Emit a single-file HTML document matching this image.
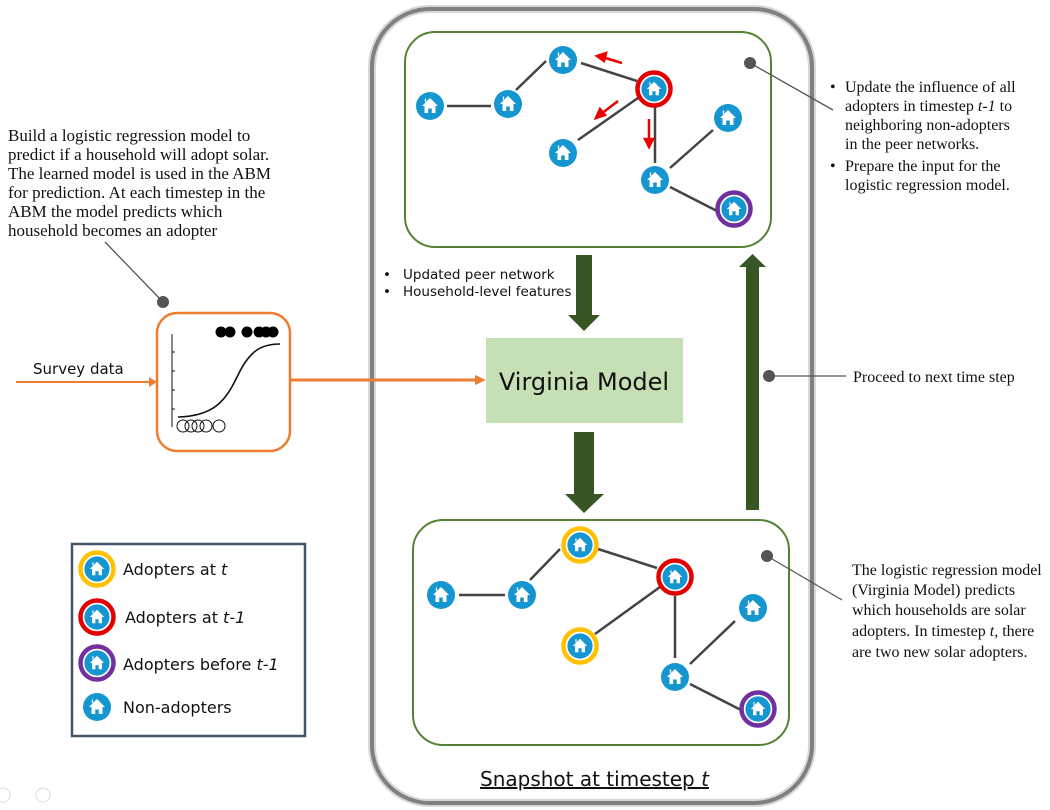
<!DOCTYPE html>
<html><head><meta charset="utf-8"><style>
html,body{margin:0;padding:0;background:#fff;}
svg{display:block;}
.t{font-family:"Liberation Serif",serif;font-size:16px;fill:#111;}
.s{font-family:"DejaVu Sans","Liberation Sans",sans-serif;fill:#111;}
</style></head><body>
<svg width="1050" height="810" viewBox="0 0 1050 810" xmlns="http://www.w3.org/2000/svg">
<defs>
<g id="h">
<circle r="14" fill="#1596d0"/>
<path d="M0,-8 L8,0 L5.5,0 L5.5,7 L1.8,7 L1.8,2.5 L-1.8,2.5 L-1.8,7 L-5.5,7 L-5.5,0 L-8,0 Z" fill="#fff"/>
<path d="M-4.5,-7.5 L-4.5,-4" stroke="#fff" stroke-width="1.3"/>
</g>
</defs>

<rect x="372" y="9" width="440" height="794" rx="58" fill="none" stroke="#d8d8d8" stroke-width="8"/>
<rect x="372" y="9" width="440" height="794" rx="58" fill="none" stroke="#808080" stroke-width="4"/>

<rect x="405" y="32" width="366" height="215" rx="30" fill="none" stroke="#548235" stroke-width="2"/>
<g stroke="#444" stroke-width="2.5">
<line x1="447" y1="106" x2="491" y2="106"/>
<line x1="516" y1="90" x2="546" y2="61"/>
<line x1="581" y1="63" x2="637" y2="81"/>
<line x1="638" y1="98" x2="578" y2="140"/>
<line x1="655" y1="107" x2="655" y2="163"/>
<line x1="670" y1="168" x2="713" y2="130"/>
<line x1="670" y1="187" x2="717" y2="211"/>
</g>
<g fill="#e00" stroke="#e00" stroke-width="2.5">
<line x1="622" y1="63" x2="602" y2="57"/><path d="M597,56 L606,53 L604,61 Z"/>
<line x1="618" y1="101" x2="601" y2="114"/><path d="M596,118 L600,109 L605,115 Z"/>
<line x1="649" y1="119" x2="649" y2="141"/><path d="M649,147 L645,139 L653,139 Z"/>
</g>
<use href="#h" x="430" y="106"/>
<use href="#h" x="508" y="104"/>
<use href="#h" x="563" y="60"/>
<circle cx="654" cy="89" r="16.5" fill="none" stroke="#e30000" stroke-width="4.5"/>
<use href="#h" x="654" y="89" transform="translate(654,89) scale(0.9) translate(-654,-89)"/>
<use href="#h" x="563" y="153"/>
<use href="#h" x="728" y="118"/>
<use href="#h" x="655" y="180"/>
<circle cx="734" cy="209" r="16.5" fill="none" stroke="#7030a0" stroke-width="4.5"/>
<use href="#h" x="734" y="209" transform="translate(734,209) scale(0.9) translate(-734,-209)"/>
<circle cx="750" cy="63" r="6" fill="#555"/>
<line x1="750" y1="63" x2="833" y2="110" stroke="#555" stroke-width="1.3"/>

<text class="t">
<tspan x="830" y="92">•</tspan><tspan x="845" y="92">Update the influence of all</tspan>
<tspan x="845" y="111">adopters in timestep <tspan font-style="italic">t-1</tspan> to</tspan>
<tspan x="845" y="130">neighboring non-adopters</tspan>
<tspan x="845" y="149">in the peer networks.</tspan>
<tspan x="830" y="171">•</tspan><tspan x="845" y="171">Prepare the input for the</tspan>
<tspan x="845" y="190">logistic regression model.</tspan>
</text>

<text class="s" font-size="13.5">
<tspan x="383" y="279">•</tspan><tspan x="403" y="279">Updated peer network</tspan>
<tspan x="383" y="296">•</tspan><tspan x="403" y="296">Household-level features</tspan>
</text>

<g fill="#375623">
<path d="M576,255 H592 V315 H600 L584,331 L568,315 H576 Z"/>
<path d="M574,432 H594 V494 H604 L584,513 L565,494 H574 Z"/>
<path d="M746,510 H759 V267 H766 L752.5,254 L739,267 H746 Z"/>
</g>

<rect x="486" y="338" width="197" height="85" fill="#c5e0b4"/>
<text class="s" x="584" y="390" font-size="24" text-anchor="middle" fill="#222">Virginia Model</text>

<circle cx="769" cy="376" r="6" fill="#555"/>
<line x1="769" y1="376" x2="846" y2="376" stroke="#555" stroke-width="1.3"/>
<text class="t" x="853" y="382">Proceed to next time step</text>

<rect x="413" y="520" width="376" height="225" rx="30" fill="none" stroke="#548235" stroke-width="2"/>
<g stroke="#444" stroke-width="2.5">
<line x1="459" y1="595" x2="505" y2="595"/>
<line x1="530" y1="580" x2="560" y2="549"/>
<line x1="598" y1="549" x2="657" y2="568"/>
<line x1="660" y1="587" x2="595" y2="634"/>
<line x1="675" y1="596" x2="675" y2="658"/>
<line x1="690" y1="664" x2="735" y2="621"/>
<line x1="690" y1="684" x2="741" y2="710"/>
</g>
<use href="#h" x="441" y="595"/>
<use href="#h" x="522" y="595"/>
<circle cx="580" cy="545" r="16.5" fill="none" stroke="#ffc000" stroke-width="4.5"/>
<use href="#h" x="580" y="545" transform="translate(580,545) scale(0.9) translate(-580,-545)"/>
<circle cx="675" cy="577" r="16.5" fill="none" stroke="#e30000" stroke-width="4.5"/>
<use href="#h" x="675" y="577" transform="translate(675,577) scale(0.9) translate(-675,-577)"/>
<circle cx="580" cy="646" r="16.5" fill="none" stroke="#ffc000" stroke-width="4.5"/>
<use href="#h" x="580" y="646" transform="translate(580,646) scale(0.9) translate(-580,-646)"/>
<use href="#h" x="753" y="608"/>
<use href="#h" x="675" y="677"/>
<circle cx="758" cy="709" r="16.5" fill="none" stroke="#7030a0" stroke-width="4.5"/>
<use href="#h" x="758" y="709" transform="translate(758,709) scale(0.9) translate(-758,-709)"/>
<circle cx="767" cy="556" r="6" fill="#555"/>
<line x1="767" y1="556" x2="842" y2="600" stroke="#555" stroke-width="1.3"/>

<text class="t">
<tspan x="852" y="575">The logistic regression model</tspan>
<tspan x="852" y="595">(Virginia Model) predicts</tspan>
<tspan x="852" y="615">which households are solar</tspan>
<tspan x="852" y="636">adopters. In timestep <tspan font-style="italic">t,</tspan> there</tspan>
<tspan x="852" y="657">are two new solar adopters.</tspan>
</text>

<text class="s" x="480" y="786" font-size="20" text-decoration="underline">Snapshot at timestep <tspan font-style="italic">t</tspan></text>

<text class="t" style="font-size:17px">
<tspan x="8" y="141">Build a logistic regression model to</tspan>
<tspan x="8" y="160">predict if a household will adopt solar.</tspan>
<tspan x="8" y="179">The learned model is used in the ABM</tspan>
<tspan x="8" y="198">for  prediction. At each timestep in the</tspan>
<tspan x="8" y="217">ABM the model predicts which</tspan>
<tspan x="8" y="236">household becomes an adopter</tspan>
</text>
<line x1="105" y1="242" x2="163" y2="302" stroke="#555" stroke-width="1.3"/>
<circle cx="163" cy="302" r="6" fill="#555"/>

<rect x="157" y="313" width="133" height="138" rx="20" fill="none" stroke="#ed7d31" stroke-width="2.5"/>
<g stroke="#111" stroke-width="1" fill="none">
<line x1="172" y1="334" x2="172" y2="427"/>
<line x1="172" y1="352" x2="175" y2="352"/><line x1="172" y1="371" x2="175" y2="371"/>
<line x1="172" y1="390" x2="175" y2="390"/><line x1="172" y1="409" x2="175" y2="409"/>
<path d="M178,417 C215,416 226,400 238,375 C250,350 262,344 280,344" stroke-width="1.6"/>
<circle cx="183" cy="426" r="6"/><circle cx="191" cy="426" r="6"/><circle cx="198" cy="426" r="6"/><circle cx="206" cy="426" r="6"/><circle cx="219" cy="426" r="6"/>
</g>
<g fill="#000">
<circle cx="221" cy="332" r="5.5"/><circle cx="230" cy="332" r="5.5"/><circle cx="247" cy="332" r="5.5"/><circle cx="259" cy="332" r="5.5"/><circle cx="266" cy="332" r="5.5"/><circle cx="273" cy="332" r="5.5"/>
</g>
<text class="s" x="33" y="374" font-size="15">Survey data</text>
<line x1="16" y1="382" x2="150" y2="382" stroke="#ed7d31" stroke-width="2"/>
<path d="M157,382 L149,377 L149,387 Z" fill="#ed7d31"/>
<line x1="290" y1="380" x2="476" y2="380" stroke="#ed7d31" stroke-width="3"/>
<path d="M486,380 L475,375 L475,385 Z" fill="#ed7d31"/>

<rect x="72" y="544" width="233" height="192" fill="#fff" stroke="#44546a" stroke-width="2.5"/>
<circle cx="97" cy="569" r="16.5" fill="none" stroke="#ffc000" stroke-width="4.5"/>
<use href="#h" x="97" y="569" transform="translate(97,569) scale(0.9) translate(-97,-569)"/>
<circle cx="97" cy="617" r="16.5" fill="none" stroke="#e30000" stroke-width="4.5"/>
<use href="#h" x="97" y="617" transform="translate(97,617) scale(0.9) translate(-97,-617)"/>
<circle cx="97" cy="663" r="16.5" fill="none" stroke="#7030a0" stroke-width="4.5"/>
<use href="#h" x="97" y="663" transform="translate(97,663) scale(0.9) translate(-97,-663)"/>
<use href="#h" x="97" y="707"/>
<text class="s" font-size="16">
<tspan x="123" y="575">Adopters at <tspan font-style="italic">t</tspan></tspan>
<tspan x="125" y="623">Adopters at <tspan font-style="italic">t-1</tspan></tspan>
<tspan x="123" y="670">Adopters before <tspan font-style="italic">t-1</tspan></tspan>
<tspan x="123" y="713">Non-adopters</tspan>
</text>
<circle cx="3" cy="795" r="7" fill="none" stroke="#ddd" stroke-width="1"/>
<circle cx="43" cy="795" r="7" fill="none" stroke="#ddd" stroke-width="1"/>
</svg>
</body></html>
